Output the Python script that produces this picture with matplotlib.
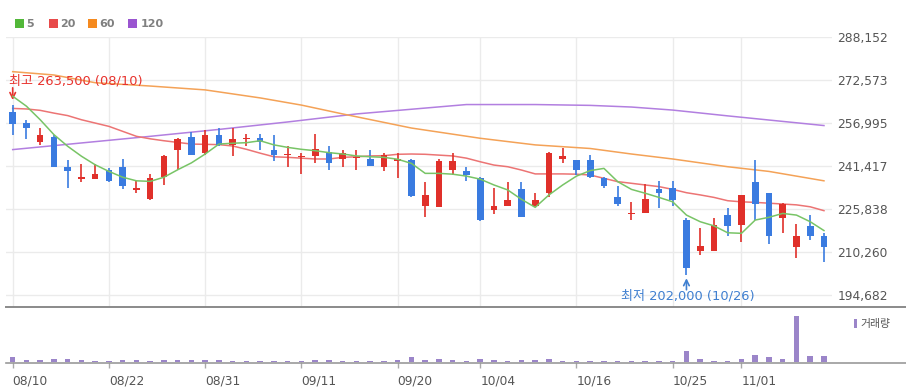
import matplotlib
matplotlib.use('Agg')
import matplotlib.pyplot as plt
from matplotlib.lines import Line2D
from matplotlib.patches import Rectangle

# ---------------- data ----------------
dates = ['08/10', '08/11', '08/14', '08/16', '08/17', '08/18', '08/21', '08/22', '08/23', '08/24',
         '08/25', '08/28', '08/29', '08/30', '08/31', '09/01', '09/04', '09/05', '09/06', '09/07',
         '09/08', '09/11', '09/12', '09/13', '09/14', '09/15', '09/18', '09/19', '09/20', '09/21',
         '09/22', '09/25', '09/26', '09/27', '10/04', '10/05', '10/06', '10/10', '10/11', '10/12',
         '10/13', '10/16', '10/17', '10/18', '10/19', '10/20', '10/23', '10/24', '10/25', '10/26',
         '10/27', '10/30', '10/31', '11/01', '11/02', '11/03', '11/06', '11/07', '11/08', '11/09']

opens = [261000, 257000, 250000, 252000, 241000, 236800, 236500, 240000, 241000, 232800,
         229500, 237500, 247000, 252000, 246000, 252500, 249000, 251000, 251500, 247000,
         245300, 244500, 245000, 246500, 244000, 244300, 244000, 241000, 243300, 243500,
         227000, 226500, 240000, 239500, 237000, 225500, 227000, 233000, 227000, 231500,
         244000, 243500, 243500, 237000, 230000, 224000, 224500, 233000, 233500, 222000,
         210500, 210500, 223500, 220000, 235500, 231500, 222500, 212000, 219500, 216000]
highs = [263500, 258000, 255000, 252500, 243500, 242000, 242000, 240500, 244000, 236000,
         238500, 245500, 251500, 253500, 254500, 255000, 255000, 253000, 253000, 252500,
         248500, 246000, 253000, 248500, 247000, 247000, 247000, 246000, 246000, 244000,
         235500, 244000, 246000, 241000, 237500, 233500, 235500, 235500, 231500, 246500,
         248000, 243500, 245500, 237500, 234000, 228500, 235000, 236000, 236000, 222500,
         219000, 222500, 226000, 231000, 243500, 231500, 228000, 220500, 223500, 217000]
lows = [252500, 251000, 249000, 241000, 233500, 235500, 236500, 235500, 233000, 231500,
        229000, 234500, 240000, 245500, 245500, 248500, 245000, 248500, 247000, 243000,
        241000, 238500, 242500, 240000, 241000, 240000, 241500, 239500, 237000, 230000,
        223000, 226500, 238000, 236000, 221500, 224000, 227000, 223000, 226500, 230000,
        242500, 238000, 237000, 233500, 227000, 222000, 224500, 226000, 227000, 202000,
        209000, 210500, 216000, 214000, 222000, 213000, 217000, 208000, 214500, 206500]
closes = [256500, 255000, 252500, 241000, 239500, 237000, 238500, 236000, 234000, 233000,
          237000, 245000, 251000, 245500, 252500, 249000, 251000, 251300, 250000, 245500,
          245500, 244800, 247500, 242500, 246000, 244500, 241500, 245500, 243500, 230500,
          231000, 243000, 243000, 238000, 222000, 227000, 229000, 223000, 229000, 246000,
          245000, 240000, 237500, 234000, 227500, 224500, 229500, 231500, 229000, 204500,
          212500, 220000, 219500, 231000, 227500, 216000, 227500, 216000, 216000, 212000]
volumes = [250, 115, 115, 185, 185, 115, 65, 65, 115, 115,
           65, 115, 115, 115, 115, 115, 65, 65, 65, 65,
           65, 65, 115, 115, 65, 65, 65, 65, 115, 250,
           115, 185, 115, 65, 185, 115, 65, 115, 115, 185,
           65, 65, 65, 65, 65, 65, 65, 65, 65, 565,
           185, 65, 65, 185, 365, 250, 185, 2315, 315, 315]

ma5 = [266600, 263000, 258100, 252700, 248500, 244900, 241800, 239400, 237300, 236000,
       235800, 237300, 240000, 242500, 245700, 249300, 249600, 249800, 250500, 249000,
       248100, 247400, 246900, 246200, 245700, 245000, 244700, 244500, 243800, 242300,
       238700, 238700, 238400, 237700, 236600, 234500, 232700, 229300, 226400, 230900,
       234500, 237700, 239700, 240500, 235700, 232900, 231500, 230000, 228400, 223600,
       221200, 219700, 217200, 217000, 221800, 222800, 224200, 223600, 221200, 218000]
ma20 = [262200, 262000, 261500, 260500, 259600, 258100, 256900, 255700, 253900, 252100,
        251200, 250500, 249900, 249300, 249200, 249100, 248600, 247400, 246000, 244700,
        244500, 244200, 243900, 243900, 244500, 244700, 245000, 245100, 245600, 245700,
        245600, 245300, 245000, 244200, 242900, 241700, 241100, 239900, 238500, 238500,
        238500, 238400, 238100, 236900, 235700, 235100, 234500, 233900, 232900, 231700,
        230900, 230000, 228800, 228400, 228200, 227900, 227600, 227300, 226600, 225200]
ma60_dates = ['08/10', '08/16', '08/21', '08/25', '08/31', '09/06', '09/11', '09/14', '09/21',
              '10/04', '10/11', '10/17', '10/20', '10/25', '10/31', '11/03', '11/09']
ma60 = [275500, 274300, 271500, 270300, 268900, 266000, 263400, 260200, 255100,
        251400, 249000, 247700, 245700, 243900, 241100, 239400, 236000]
ma120_dates = ['08/10', '08/18', '08/25', '09/01', '09/08', '09/15', '09/21', '09/27',
               '10/11', '10/17', '10/20', '10/25', '10/31', '11/06', '11/09']
ma120 = [247300, 249700, 252100, 254600, 257300, 260200, 261900, 263600,
         263600, 263300, 262700, 261600, 259500, 257500, 256000]

y_ticks = [194682, 210260, 225838, 241417, 256995, 272573, 288152]
x_tick_labels = ['08/10', '08/22', '08/31', '09/11', '09/20', '10/04', '10/16', '10/25', '11/01']
legend_labels = ['5', '20', '60', '120']
vol_label = '거래량'

# ---------------- style ----------------
UP = '#e0302a'
DOWN = '#3a7be0'
MA_COLORS = ['#78c466', '#ec7474', '#f4a257', '#b27fe0']
LEG_COLORS = ['#52b839', '#e84a4a', '#f58a1f', '#9a55d0']
VOL_COLOR = '#9b85c9'
GRID = '#ebebeb'
W, H = 906, 388


def fx(px):
    return px / W


def fy(py):
    return 1 - py / H


fig = plt.figure(figsize=(W / 100, H / 100), dpi=100)
fig.patch.set_facecolor('white')

ax = fig.add_axes([fx(6), fy(307), fx(826), (307 - 36.7) / H])
axv = fig.add_axes([fx(6), fy(362.3), fx(826), (362.3 - 307) / H])

xs = list(range(len(dates)))
idx = {d: i for i, d in enumerate(dates)}

# moving averages
ax.plot([idx[d] for d in ma120_dates], ma120, color=MA_COLORS[3], lw=1.1, zorder=2)
ax.plot([idx[d] for d in ma60_dates], ma60, color=MA_COLORS[2], lw=1.1, zorder=2)
ax.plot(xs, ma20, color=MA_COLORS[1], lw=1.1, zorder=2)
ax.plot(xs, ma5, color=MA_COLORS[0], lw=1.1, zorder=4)

# candles
colors = [UP if c >= o else DOWN for o, c in zip(opens, closes)]
ax.vlines(xs, lows, highs, colors=colors, lw=1.2, zorder=3)
bottoms = [min(o, c) for o, c in zip(opens, closes)]
heights = [max(abs(c - o), 500) for o, c in zip(opens, closes)]
ax.bar(xs, heights, bottom=bottoms, width=0.48, color=colors, zorder=3, linewidth=0)

ax.set_xlim(-0.487, 59.585)
ax.set_ylim(190339, 288152)
ax.set_yticks(y_ticks)
ax.set_yticklabels([f'{v:,}' for v in y_ticks])
ax.yaxis.tick_right()
ax.tick_params(axis='y', length=0, pad=4, labelsize=8.8, labelcolor='#555555')
ax.set_xticks([idx[d] for d in x_tick_labels])
ax.tick_params(axis='x', length=0, labelbottom=False)
ax.grid(True, color=GRID, lw=1.0, zorder=0)
ax.set_axisbelow(True)
for s in ax.spines.values():
    s.set_visible(False)

# high / low annotations
fam = ['DejaVu Sans', 'Noto Sans CJK KR']
hi_i = highs.index(max(highs))
lo_i = lows.index(min(lows))
hi_col = '#e8322d'
lo_col = '#3f7fd0'
ax.annotate('', xy=(hi_i, highs[hi_i]), xytext=(0, 17), textcoords='offset pixels',
            arrowprops=dict(arrowstyle='->', color=hi_col, lw=1.2, shrinkA=0, shrinkB=3.5))
ax.annotate(f'최고 {highs[hi_i]:,} ({dates[hi_i]})', xy=(hi_i, highs[hi_i]), xytext=(-3.4, 24),
            textcoords='offset pixels', ha='left', va='center', color=hi_col, fontsize=9.4,
            family=fam)
ax.annotate('', xy=(lo_i, lows[lo_i]), xytext=(0, -15), textcoords='offset pixels',
            arrowprops=dict(arrowstyle='->', color=lo_col, lw=1.2, shrinkA=0, shrinkB=2.5))
ax.annotate(f'최저 {lows[lo_i]:,} ({dates[lo_i]})', xy=(lo_i, lows[lo_i]), xytext=(1, -21),
            textcoords='offset pixels', ha='center', va='center', color=lo_col, fontsize=9.4,
            family=fam)

# volume
axv.bar(xs, volumes, width=0.4, color=VOL_COLOR, linewidth=0)
axv.set_xlim(-0.487, 59.585)
axv.set_ylim(0, 2765)
axv.set_yticks([])
axv.set_xticks([idx[d] for d in x_tick_labels])
axv.set_xticklabels(x_tick_labels)
axv.tick_params(axis='x', direction='out', length=4, width=1, color='#aaaaaa',
                pad=5, labelsize=8.8, labelcolor='#555555')
for lab in axv.get_xticklabels():
    lab.set_ha('left')
    lab.set_x(lab.get_position()[0])
for s in axv.spines.values():
    s.set_visible(False)

# separator and baseline lines running to the right edge
fig.add_artist(Line2D([fx(6), 1], [fy(307.3), fy(307.3)], color='#8a8a8a', lw=1.4))
fig.add_artist(Line2D([fx(6), 1], [fy(362.5), fy(362.5)], color='#9a9a9a', lw=1.2))

# legend at top
sq_x = [15, 49.3, 88.3, 128.3]
tx_x = [26.5, 60, 99.5, 141]
for sx, tx, lab, col in zip(sq_x, tx_x, legend_labels, LEG_COLORS):
    fig.add_artist(Rectangle((fx(sx), fy(28)), fx(8.7), 8.7 / H, transform=fig.transFigure,
                             color=col, lw=0))
    fig.text(fx(tx), fy(23.7), lab, ha='left', va='center', fontsize=8, fontweight='bold',
             color='#808080')

# volume legend
fig.add_artist(Rectangle((fx(854.3), fy(328)), fx(3), 9 / H, transform=fig.transFigure,
                         color=VOL_COLOR, lw=0))
fig.text(fx(860.5), fy(324), vol_label, ha='left', va='center', fontsize=7.8,
         color='#555555', family=['Noto Sans CJK KR', 'DejaVu Sans'])

fig.savefig('out.png', dpi=100, facecolor='white')
